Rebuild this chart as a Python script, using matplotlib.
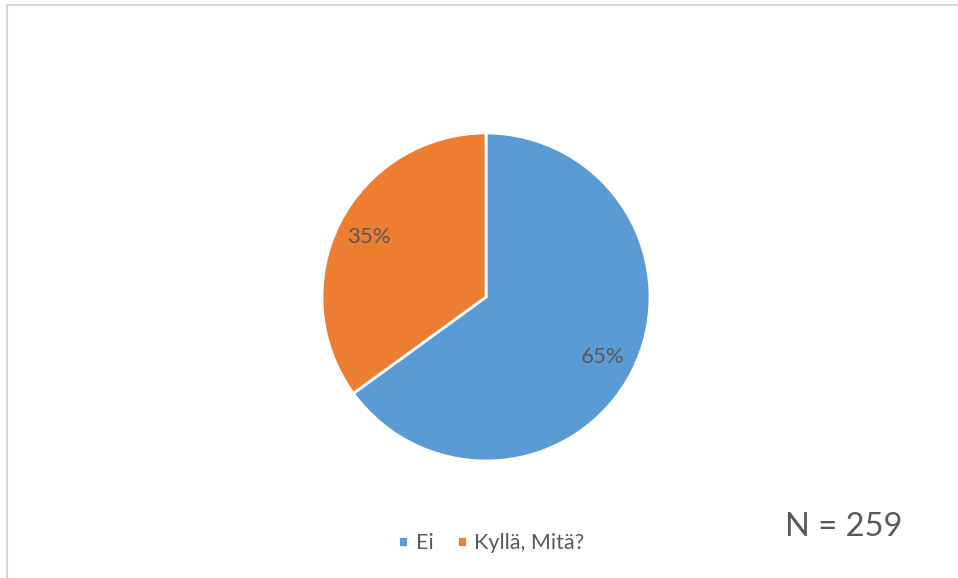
import matplotlib.pyplot as plt
from matplotlib.lines import Line2D

# data
labels = ["Ei", "Kyllä, Mitä?"]
shares = [65, 35]
colours = ["#5B9BD5", "#ED7D31"]
n_total = 259

plt.rcParams['font.family'] = ['Lato', 'DejaVu Sans']
txt = "#595959"

W, H = 958, 578
fig = plt.figure(figsize=(W / 100, H / 100), dpi=100)

# pie axes placed in pixels: centre (486, 297), radius 164 px
cx, cy, R, half = 486, 297, 164, 180
ax = fig.add_axes([(cx - half) / W, (H - cy - half) / H, 2 * half / W, 2 * half / H])
lim = half / R
wedges, _, autotexts = ax.pie(
    shares, colors=colours, startangle=90, counterclock=False,
    autopct="%d%%", pctdistance=0.8,
    wedgeprops=dict(edgecolor="white", linewidth=2),
    textprops=dict(color=txt, fontsize=16))
ax.set_xlim(-lim, lim)
ax.set_ylim(-lim, lim)
ax.set_aspect("equal")
ax.axis("off")

fig.legend(wedges, labels, loc="center", bbox_to_anchor=(0.513, 1 - 543 / H),
           ncol=2, frameon=False, fontsize=15.5, labelcolor=txt,
           handlelength=0.45, handleheight=0.45, handletextpad=0.35,
           columnspacing=1.1)

fig.text(844 / W, 1 - 527 / H, "N = {}".format(n_total), ha="center", va="center",
         fontsize=23.5, color=txt)

# light chart border (top and left visible)
fig.add_artist(Line2D([6.5 / W, 1], [1 - 4.5 / H] * 2, color="#D9D9D9", lw=1.5))
fig.add_artist(Line2D([6.5 / W] * 2, [0, 1 - 4.5 / H], color="#D9D9D9", lw=1.5))

fig.savefig("out.png", dpi=100, facecolor="white")
